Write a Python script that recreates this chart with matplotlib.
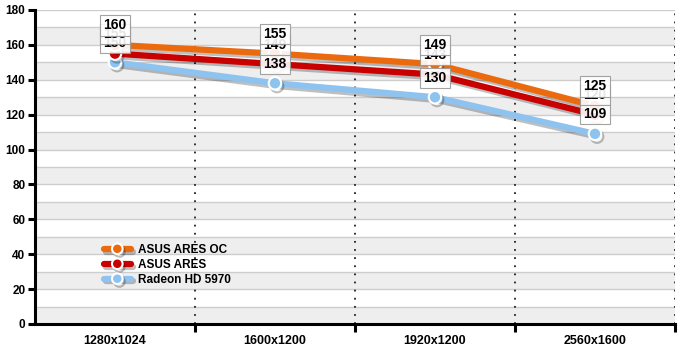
import matplotlib
matplotlib.use("Agg")
import matplotlib.pyplot as plt
import matplotlib.patheffects as pe

plt.rcParams['font.family'] = ['Liberation Sans', 'DejaVu Sans']

resolutions = ["1280x1024", "1600x1200", "1920x1200", "2560x1600"]
ares_oc     = [160, 155, 149, 125]
ares        = [155, 149, 143, 120]
radeon      = [150, 138, 130, 109]

series = [
    ("Radeon HD 5970", radeon, "#8fc3ef"),
    ("ASUS ARES",      ares,   "#c80000"),
    ("ASUS ARES OC",   ares_oc, "#ec6a0e"),
]

fig = plt.figure(figsize=(6.9, 3.57), dpi=100)
ax = fig.add_axes([35 / 690, 1 - 324 / 357, 640 / 690, 314 / 357])

x = list(range(1, len(resolutions) + 1))

# ── background bands + grid ───────────────────────────────────────────────
for lo in range(0, 180, 20):
    ax.axhspan(lo, lo + 10, color="#eeeeee", zorder=0, lw=0)
for v in range(10, 181, 10):
    ax.axhline(v, color="#cdcdcd", lw=1, zorder=0.5)
for b in [1.5, 2.5, 3.5, 4.5]:
    ax.axvline(b, color="#222222", lw=1.3, ls=(0, (1, 3.5)), zorder=0.6)

# ── lines ─────────────────────────────────────────────────────────────────
handles = {}
for name, vals, col in series:
    h, = ax.plot(x, vals, color=col, lw=4.5, marker="o", ms=9,
                 mfc=col, mec="white", mew=1.5, zorder=3, label=name,
                 solid_capstyle="round",
                 path_effects=[pe.SimpleLineShadow(offset=(1.5, -2), alpha=0.25),
                               pe.Normal()])
    handles[name] = h

# ── value labels ──────────────────────────────────────────────────────────
for name, vals, col in series:
    for xi, v in zip(x, vals):
        ax.annotate(str(v), (xi, v), xytext=(0, 14), textcoords="offset points",
                    ha="center", va="center", fontsize=10, fontweight="bold",
                    zorder=5,
                    bbox=dict(boxstyle="square,pad=0.22", fc="white", ec="#999999",
                              lw=0.8, alpha=0.9))

# ── axes styling ──────────────────────────────────────────────────────────
ax.set_xlim(0.5, 4.5)
ax.set_ylim(0, 180)
ax.set_yticks(range(0, 181, 20))
ax.set_yticklabels([str(v) for v in range(0, 181, 20)], fontsize=8.5, fontweight="bold")
ax.set_xticks(x)
ax.set_xticklabels(resolutions, fontsize=9, fontweight="bold")
ax.tick_params(axis="x", length=0, pad=8)
ax.set_xticks([1.5, 2.5, 3.5, 4.5], minor=True)
ax.tick_params(axis="x", which="minor", length=6, width=2.2, color="black")
ax.tick_params(axis="y", length=5, width=2.2, pad=2)
for s in ["top", "right"]:
    ax.spines[s].set_visible(False)
ax.spines["left"].set_linewidth(2.2)
ax.spines["bottom"].set_linewidth(2.2)
ax.spines["left"].set_zorder(6)
ax.spines["bottom"].set_zorder(6)

leg = ax.legend([handles["ASUS ARES OC"], handles["ASUS ARES"], handles["Radeon HD 5970"]],
                ["ASUS ARES OC", "ASUS ARES", "Radeon HD 5970"],
                loc="upper left", bbox_to_anchor=(0.1, 0.27), frameon=False,
                prop=dict(size=8.5, weight="bold"), handlelength=2.3,
                markerscale=0.85, labelspacing=0.25, borderaxespad=0,
                handletextpad=0.6)

fig.savefig("out.png", dpi=100)
